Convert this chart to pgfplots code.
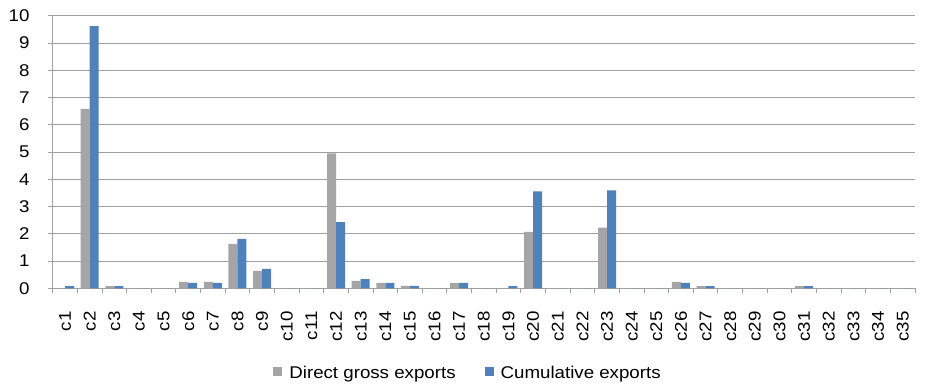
\documentclass[border=0pt]{standalone}
\usepackage{fontspec}
\setmainfont{Liberation Sans}[FakeStretch=1.1]
\usepackage{pgfplots}
\pgfplotsset{compat=1.18}
\definecolor{grossgray}{RGB}{165,165,165}
\definecolor{cumblue}{RGB}{79,129,189}
\definecolor{gridgray}{RGB}{160,160,160}

% direct gross exports and cumulative exports per category
\pgfplotstableread{
x gross cum
1  0    0.08
2  6.58 9.62
3  0.08 0.08
4  0    0
5  0    0
6  0.24 0.20
7  0.24 0.20
8  1.63 1.81
9  0.64 0.71
10 0    0
11 0    0
12 4.95 2.43
13 0.27 0.34
14 0.20 0.20
15 0.09 0.09
16 0    0
17 0.20 0.20
18 0    0
19 0    0.08
20 2.07 3.56
21 0    0
22 0    0
23 2.23 3.59
24 0    0
25 0    0
26 0.24 0.20
27 0.08 0.08
28 0    0
29 0    0
30 0    0
31 0.08 0.08
32 0    0
33 0    0
34 0    0
35 0    0
}\exports

\begin{document}
\begin{tikzpicture}
\useasboundingbox (0,0) rectangle (926bp,385bp);
\begin{axis}[
  at={(52.7bp,96.7bp)}, anchor=south west,
  scale only axis, width=862.3bp, height=272.6bp,
  ybar=0pt, bar width=9bp,
  xmin=0.5, xmax=35.5, ymin=0, ymax=10,
  axis x line*=bottom, axis y line*=left,
  axis line style={gridgray, line width=0.9bp, -},
  ymajorgrids, grid style={gridgray, line width=0.9bp},
  tick align=outside,
  major tick length=5bp, minor tick length=5bp,
  tick style={gridgray, line width=0.9bp},
  ytick={0,1,...,10},
  xtick={1,2,...,35},
  minor xtick={0.5,1.5,...,35.5},
  major x tick style={draw=none},
  xticklabels={c1,c2,c3,c4,c5,c6,c7,c8,c9,c10,c11,c12,c13,c14,c15,c16,c17,c18,c19,c20,c21,c22,c23,c24,c25,c26,c27,c28,c29,c30,c31,c32,c33,c34,c35},
  /pgf/number format/assume math mode=true,
  tick label style={font=\fontsize{17bp}{20bp}\selectfont, inner sep=0pt},
  xticklabel style={rotate=90, anchor=east},
  yticklabel style={anchor=east},
  xticklabel shift=18bp,
  yticklabel shift=18bp,
  legend columns=2,
  legend style={at={(0.4805,-0.311)}, anchor=center, draw=none, fill=none,
    font=\fontsize{17bp}{20bp}\selectfont,
    nodes={inner sep=0pt},
    /tikz/every odd column/.append style={column sep=7bp},
    /tikz/every even column/.append style={column sep=29bp}},
  legend image code/.code={\fill[#1] (0bp,-3bp) rectangle (9bp,6bp);},
]
\addplot[fill=grossgray, draw=none] table[x=x, y=gross] {\exports};
\addplot[fill=cumblue, draw=none] table[x=x, y=cum] {\exports};
\legend{Direct gross exports, Cumulative exports}
\end{axis}
\end{tikzpicture}
\end{document}
